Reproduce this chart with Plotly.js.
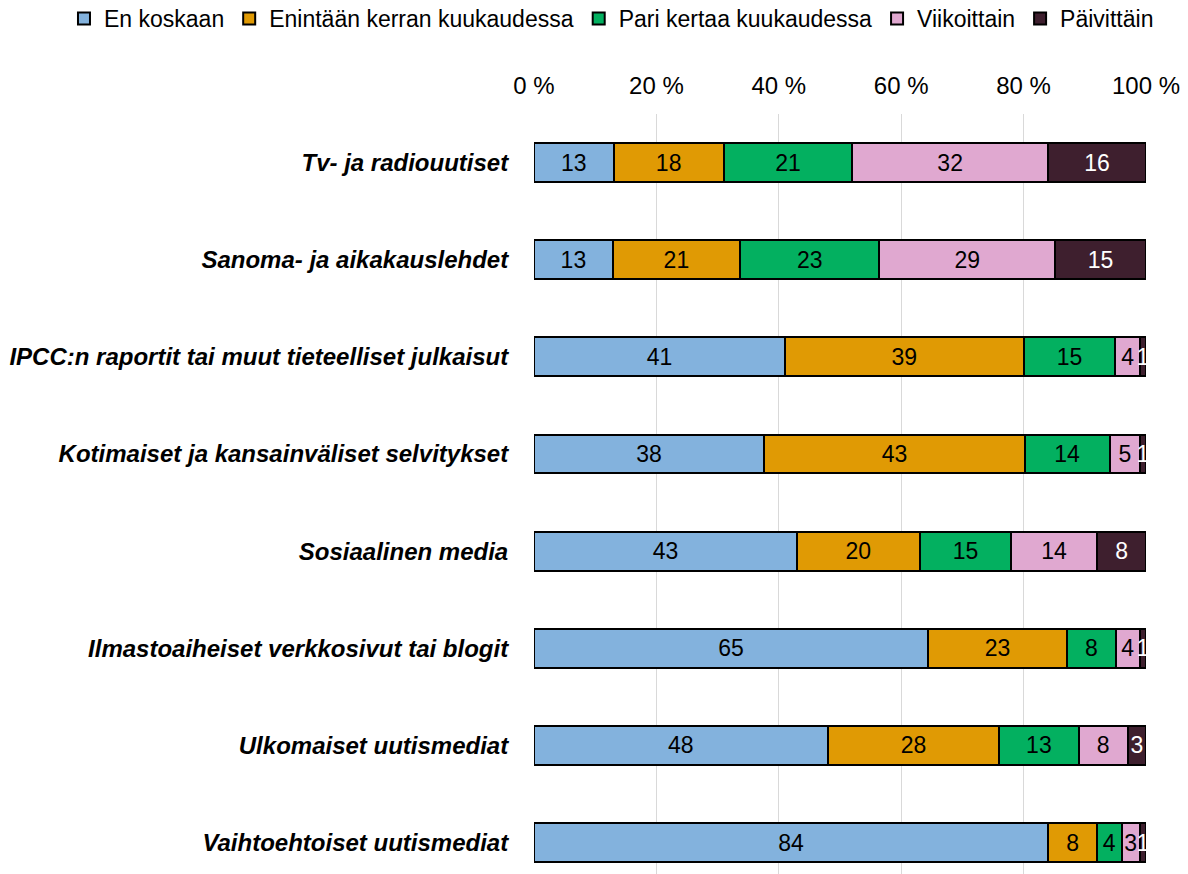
<!DOCTYPE html>
<html>
<head>
<meta charset="utf-8">
<script src="https://cdn.plot.ly/plotly-3.0.1.min.js"></script>
<style>html,body{margin:0;padding:0;background:#fff;}#chart{width:1188px;height:874px;}</style>
</head>
<body>
<div id="chart"></div>
<script>
const categories = [
  "Tv- ja radiouutiset",
  "Sanoma- ja aikakauslehdet",
  "IPCC:n raportit tai muut tieteelliset julkaisut",
  "Kotimaiset ja kansainväliset selvitykset",
  "Sosiaalinen media",
  "Ilmastoaiheiset verkkosivut tai blogit",
  "Ulkomaiset uutismediat",
  "Vaihtoehtoiset uutismediat"
];
const seriesNames = ["En koskaan", "Enintään kerran kuukaudessa", "Pari kertaa kuukaudessa", "Viikoittain", "Päivittäin"];
const enKoskaan = [13, 13, 41, 38, 43, 65, 48, 84];
const enintaanKerran = [18, 21, 39, 43, 20, 23, 28, 8];
const pariKertaa = [21, 23, 15, 14, 15, 8, 13, 4];
const viikoittain = [32, 29, 4, 5, 14, 4, 8, 3];
const paivittain = [16, 15, 1, 1, 8, 1, 3, 1];
const xTicks = [0, 20, 40, 60, 80, 100];

const seriesValues = [enKoskaan, enintaanKerran, pariKertaa, viikoittain, paivittain];
const colors = ["#83b2dd", "#e09a04", "#03b060", "#e0a8d0", "#3e1f2e"];
const textColors = ["#000", "#000", "#000", "#000", "#fff"];
const FONT = "Liberation Sans, Arial, sans-serif";

const traces = seriesValues.map((vals, i) => ({
  type: "bar",
  orientation: "h",
  name: seriesNames[i],
  y: categories,
  x: vals,
  text: vals.map(String),
  textposition: "inside",
  insidetextanchor: "middle",
  constraintext: "none",
  textangle: 0,
  cliponaxis: false,
  textfont: {family: FONT, size: 23, color: textColors[i]},
  marker: {color: colors[i], line: {color: "#000", width: 2}},
  width: 0.4,
  hoverinfo: "name+x"
}));

const layout = {
  width: 1188,
  height: 874,
  margin: {l: 534, r: 42, t: 114, b: 0, pad: 0, autoexpand: false},
  barmode: "stack",
  barnorm: "percent",
  paper_bgcolor: "#fff",
  plot_bgcolor: "#fff",
  font: {family: FONT, size: 23, color: "#000"},
  showlegend: true,
  legend: {
    orientation: "h",
    x: -0.768, xanchor: "left",
    y: 1.154, yanchor: "top",
    font: {family: FONT, size: 23, color: "#000"},
    itemwidth: 30,
    traceorder: "normal",
    bgcolor: "rgba(0,0,0,0)"
  },
  xaxis: {
    side: "top",
    range: [0, 100],
    tickvals: xTicks,
    ticktext: xTicks.map(v => v + " %"),
    showgrid: true,
    gridcolor: "#d9d9d9",
    gridwidth: 1,
    zeroline: false,
    showline: false,
    ticks: "outside",
    ticklen: 9,
    tickcolor: "rgba(0,0,0,0)",
    tickfont: {family: FONT, size: 24, color: "#000"},
    fixedrange: true
  },
  yaxis: {
    type: "category",
    range: [7.324, -0.5],
    tickvals: categories,
    ticktext: categories.map(c => "<b><i>" + c + "</i></b>"),
    showgrid: false,
    zeroline: false,
    showline: false,
    ticks: "outside",
    ticklen: 20,
    tickcolor: "rgba(0,0,0,0)",
    tickfont: {family: FONT, size: 24, color: "#000"},
    fixedrange: true
  }
};

Plotly.newPlot("chart", traces, layout, {displayModeBar: false, staticPlot: true});
</script>
</body>
</html>
